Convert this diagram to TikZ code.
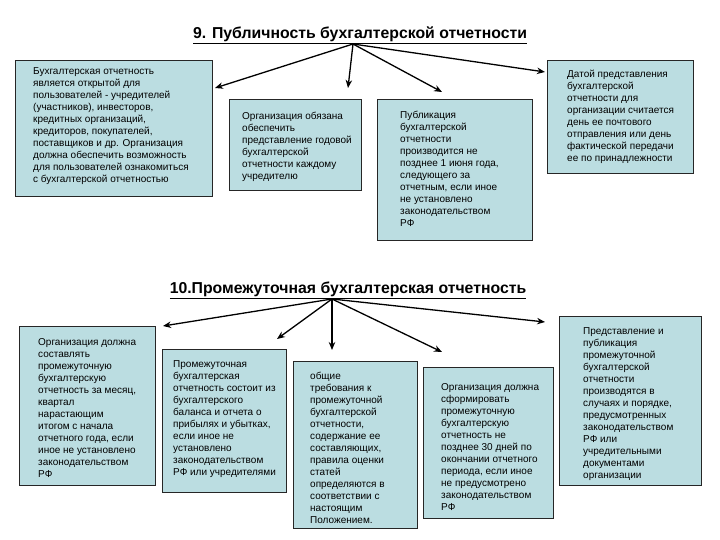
\documentclass[tikz,border=0pt]{standalone}
\usepackage{fontspec}
\setmainfont{Liberation Sans}
\usetikzlibrary{arrows.meta}
\definecolor{boxfill}{RGB}{187,221,225}
\begin{document}
\begin{tikzpicture}[x=1pt,y=-1pt,
  box/.style={draw=black!85, line width=0.8pt, fill=boxfill, inner sep=0pt, anchor=north west},
  txt/.style={anchor=north west, inner sep=0pt, align=left, font=\fontsize{10}{12}\selectfont},
  ttl/.style={font=\fontsize{15.8}{18}\selectfont\bfseries, inner sep=0pt},
  arr/.style={line width=1.3pt, -{Stealth[length=8pt,width=6.5pt]}}]
\useasboundingbox[fill=white] (0,0) rectangle (720,540);

% ---- section 9 ----
\node[ttl] (h9) at (360,35) {\underline{9. Публичность бухгалтерской отчетности}};
\coordinate (o9) at (353,44);

\node[box, minimum width=197pt, minimum height=136pt] (a1) at (15,60) {};
\node[box, minimum width=132pt, minimum height=91pt] (a2) at (229,99) {};
\node[box, minimum width=155pt, minimum height=141pt] (a3) at (377,99) {};
\node[box, minimum width=146pt, minimum height=113pt] (a4) at (547,60) {};

\node[txt] (ta1) at (33,66) {\strut Бухгалтерская отчетность\\является открытой для\\пользователей - учредителей\\(участников), инвесторов,\\кредитных организаций,\\кредиторов, покупателей,\\поставщиков и др. Организация\\должна обеспечить возможность\\для пользователей ознакомиться\\с бухгалтерской отчетностью};
\node[txt] (ta2) at (242,111) {\strut Организация обязана\\обеспечить\\представление годовой\\бухгалтерской\\отчетности каждому\\учредителю};
\node[txt] (ta3) at (400,110) {\strut Публикация\\бухгалтерской\\отчетности\\производится не\\позднее 1 июня года,\\следующего за\\отчетным, если иное\\не установлено\\законодательством\\РФ};
\node[txt] (ta4) at (567,69) {\strut Датой представления\\бухгалтерской\\отчетности для\\организации считается\\день ее почтового\\отправления или день\\фактической передачи\\ее по принадлежности};

\coordinate (p1) at (215,88);
\coordinate (p2) at (348,88);
\coordinate (p3) at (442,92);
\coordinate (p4) at (545,72);
\draw[arr] (o9) -- (p1);
\draw[arr] (o9) -- (p2);
\draw[arr] (o9) -- (p3);
\draw[arr] (o9) -- (p4);

% ---- section 10 ----
\node[ttl] (h10) at (348,290) {\underline{10.Промежуточная бухгалтерская отчетность}};
\coordinate (o10) at (332,299);

\node[box, minimum width=136pt, minimum height=159pt] (b1) at (19,326) {};
\node[box, minimum width=124pt, minimum height=143pt] (b2) at (162,349) {};
\node[box, minimum width=124pt, minimum height=167pt] (b3) at (293,361) {};
\node[box, minimum width=130pt, minimum height=151pt] (b4) at (423,367) {};
\node[box, minimum width=142pt, minimum height=169pt] (b5) at (559,316) {};

\node[txt] (tb1) at (38,337) {\strut Организация должна\\составлять\\промежуточную\\бухгалтерскую\\отчетность за месяц,\\квартал\\нарастающим\\итогом с начала\\отчетного года, если\\иное не установлено\\законодательством\\РФ};
\node[txt] (tb2) at (173,359) {\strut Промежуточная\\бухгалтерская\\отчетность состоит из\\бухгалтерского\\баланса и отчета о\\прибылях и убытках,\\если иное не\\установлено\\законодательством\\РФ или учредителями};
\node[txt] (tb3) at (310,371) {\strut общие\\требования к\\промежуточной\\бухгалтерской\\отчетности,\\содержание ее\\составляющих,\\правила оценки\\статей\\определяются в\\соответствии с\\настоящим\\Положением.};
\node[txt] (tb4) at (441,382) {\strut Организация должна\\сформировать\\промежуточную\\бухгалтерскую\\отчетность не\\позднее 30 дней по\\окончании отчетного\\периода, если иное\\не предусмотрено\\законодательством\\РФ};
\node[txt] (tb5) at (583,326) {\strut Представление и\\публикация\\промежуточной\\бухгалтерской\\отчетности\\производятся в\\случаях и порядке,\\предусмотренных\\законодательством\\РФ или\\учредительными\\документами\\организации};

\coordinate (q1) at (163,326);
\coordinate (q2) at (277,339);
\coordinate (q3) at (332,350);
\coordinate (q4) at (442,352);
\coordinate (q5) at (545,322);
\draw[arr] (o10) -- (q1);
\draw[arr] (o10) -- (q2);
\draw[arr] (o10) -- (q3);
\draw[arr] (o10) -- (q4);
\draw[arr] (o10) -- (q5);
\end{tikzpicture}
\end{document}
